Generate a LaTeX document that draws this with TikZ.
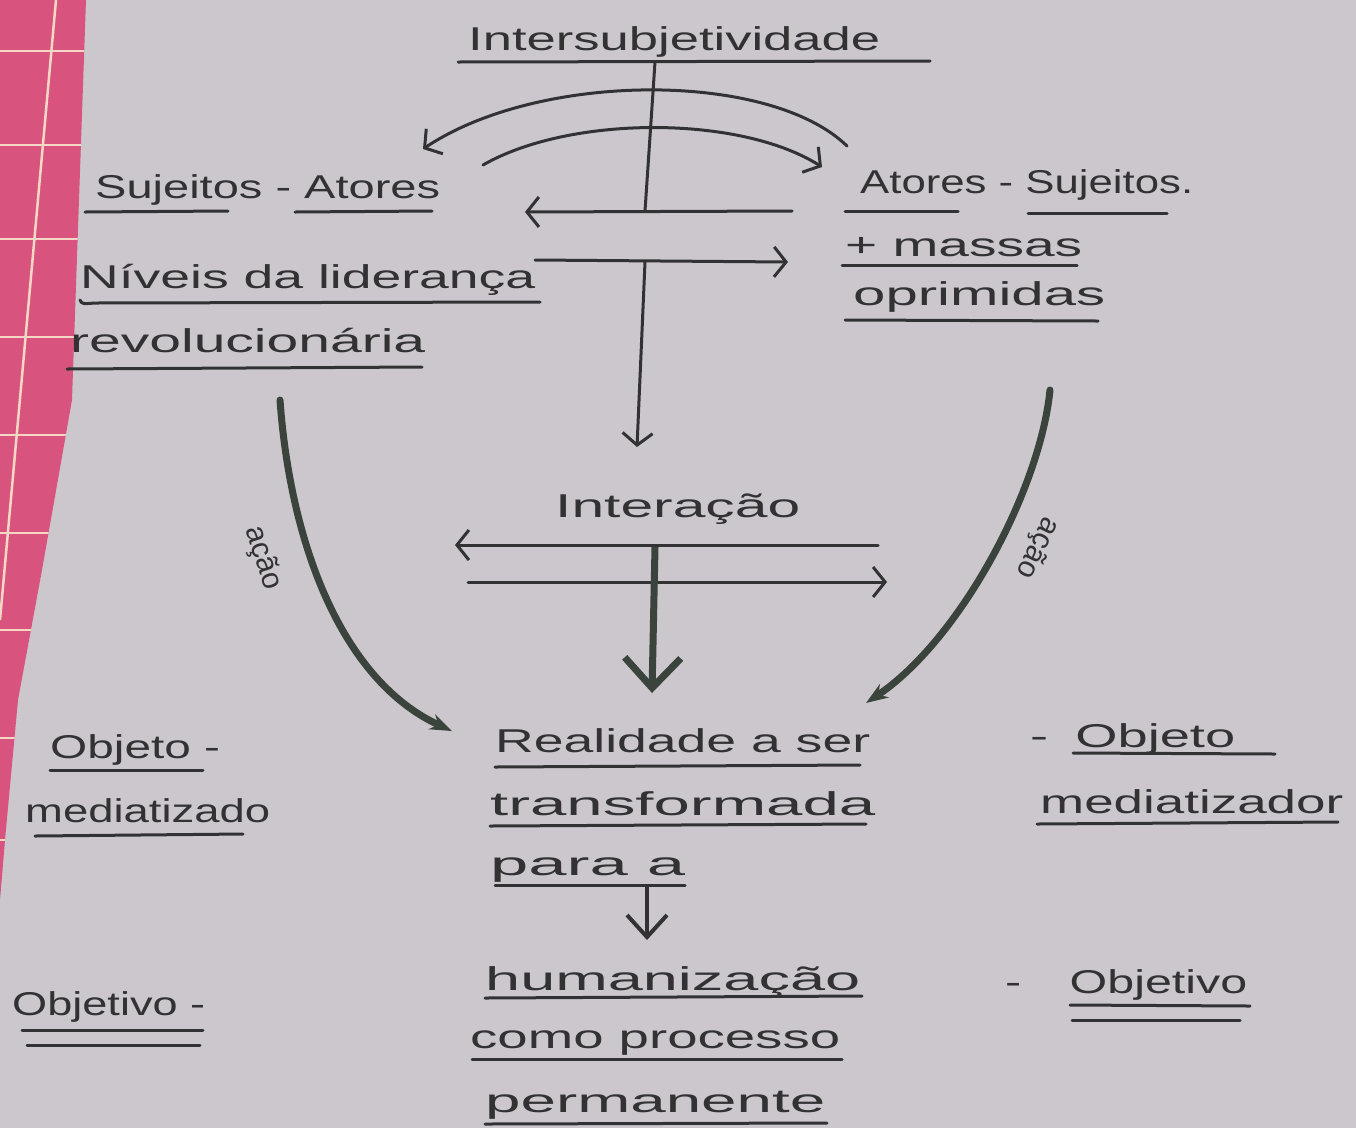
\documentclass[tikz,border=0pt]{standalone}
\usepackage{fontspec}
\setmainfont{Liberation Sans}
\usetikzlibrary{arrows.meta}
\definecolor{paper}{RGB}{204,199,205}
\definecolor{pinkc}{RGB}{216,84,126}
\definecolor{gridc}{RGB}{246,214,196}
\definecolor{ink}{RGB}{50,50,52}
\definecolor{curvec}{RGB}{58,68,60}
\newcommand{\fw}[2]{\resizebox{#1pt}{\height}{#2}}
\begin{document}
\begin{tikzpicture}[x=1pt,y=-1pt,
  txt/.style={anchor=base west,inner sep=0pt,text=ink,font=\fontsize{33}{38}\selectfont},
  small/.style={inner sep=0pt,text=ink,font=\fontsize{30}{32}\selectfont},
  uline/.style={draw=ink,line width=3pt,line cap=round},
  harrow/.style={draw=ink,line width=3pt,line cap=round,-{Straight Barb[length=12pt,width=30pt]}},
  thickarrow/.style={draw=curvec,line width=7pt,-{Straight Barb[length=30pt,width=56pt]}},
  actionarrow/.style={draw=curvec,line width=7pt,line cap=round,-{Stealth[length=22pt,width=16pt]}}]
\useasboundingbox (0,0) rectangle (1356,1128);
\fill[paper] (0,0) rectangle (1356,1128);
% pink grid paper at the left edge
\begin{scope}
  \clip (0,0) -- (86,0) -- (72,400) -- (42,570) -- (18,700) -- (5,840) -- (0,900) -- cycle;
  \fill[pinkc] (0,0) rectangle (100,1000);
  \foreach \yy in {51,145,239,337,435,533,630,738,840}
    \draw[gridc,line width=2.5pt] (0,\yy) -- (100,\yy);
  \draw[gridc,line width=2.5pt] (56,0) -- (0,620);
\end{scope}

% ---------- texts ----------
\node[txt] (inter) at (468,50) {\fw{412}{Intersubjetividade}};
\node[txt] (sa) at (95,198) {\fw{345}{Sujeitos - Atores}};
\node[txt] (niv) at (80,288) {\fw{455}{Níveis da liderança}};
\node[txt] (rev) at (70,352) {\fw{355}{revolucionária}};
\node[txt] (as) at (860,193) {\fw{333}{Atores - Sujeitos.}};
\node[txt] (mas) at (845,256) {\fw{237}{+ massas}};
\node[txt] (opr) at (853,305) {\fw{252}{oprimidas}};
\node[txt] (intc) at (555,517) {\fw{245}{Interação}};
\node[txt] (real) at (495,752) {\fw{375}{Realidade a ser}};
\node[txt] (trans) at (490,815) {\fw{385}{transformada}};
\node[txt] (para) at (490,875) {\fw{195}{para a}};
\node[txt] (hum) at (485,990) {\fw{375}{humanização}};
\node[txt] (como) at (470,1048) {\fw{370}{como processo}};
\node[txt] (perm) at (485,1112) {\fw{340}{permanente}};
\node[txt] (objL) at (50,758) {\fw{170}{Objeto -}};
\node[txt] (medL) at (25,822) {\fw{245}{mediatizado}};
\node[txt] (obvL) at (12,1015) {\fw{193}{Objetivo -}};
\node[txt] (objR) at (1030,747) {\fw{205}{-\hspace{0.5em}Objeto}};
\node[txt] (medR) at (1040,813) {\fw{303}{mediatizador}};
\node[txt] (obvR) at (1005,993) {\fw{242}{-\hspace{1.0em}Objetivo}};
\node[small,rotate=-72] (acaoL) at (263,558) {ação};
\node[small,rotate=-116] (acaoR) at (1037,548) {ação};

% ---------- underlines ----------
\draw[uline] (458,62) -- (930,61);
\draw[uline] (85,212) -- (228,211);
\draw[uline] (295,212) -- (432,211);
\draw[uline] (80,300) .. controls (82,304) .. (95,303) -- (540,302);
\draw[uline] (67,369) -- (422,367);
\draw[uline] (845,211) -- (958,211);
\draw[uline] (1028,213) -- (1167,213);
\draw[uline] (842,265) -- (1077,265);
\draw[uline] (845,320) -- (1098,321);
\draw[uline] (495,767) -- (860,765);
\draw[uline] (490,826) -- (866,824);
\draw[uline] (495,885) -- (685,885);
\draw[uline] (485,998) -- (862,996);
\draw[uline] (472,1059) -- (842,1059);
\draw[uline] (485,1124) -- (827,1123);
\draw[uline] (50,770) -- (203,770);
\draw[uline] (35,836) -- (243,834);
\draw[uline] (22,1030) -- (203,1030);
\draw[uline] (27,1045) -- (200,1045);
\draw[uline] (1073,753) -- (1275,754);
\draw[uline] (1037,824) -- (1338,822);
\draw[uline] (1070,1005) -- (1250,1006);
\draw[uline] (1072,1020) -- (1240,1020);

% ---------- connectors ----------
\coordinate (topA) at (655,62);
\coordinate (topB) at (645,211);
\coordinate (c1s) at (847,146);
\coordinate (c1e) at (423,149);
\coordinate (c2s) at (483,165);
\coordinate (c2e) at (822,167);
\coordinate (h1s) at (792,211);
\coordinate (h1e) at (525,212);
\coordinate (h2s) at (535,260);
\coordinate (h2e) at (788,262);
\coordinate (v2s) at (645,262);
\coordinate (v2e) at (637,447);
\coordinate (i1s) at (878,545);
\coordinate (i1e) at (455,545);
\coordinate (i2s) at (468,582);
\coordinate (i2e) at (887,582);
\coordinate (v3s) at (655,547);
\coordinate (v3e) at (652,693);
\coordinate (v4s) at (647,887);
\coordinate (v4e) at (647,940);
\coordinate (aLs) at (280,400);
\coordinate (aLe) at (452,731);
\coordinate (aRs) at (1050,390);
\coordinate (aRe) at (866,703);

\draw[uline] (topA) -- (topB);
\draw[harrow] (c1s) .. controls (770,71) and (540,71) .. (c1e);
\draw[harrow] (c2s) .. controls (570,115) and (740,115) .. (c2e);
\draw[harrow] (h1s) -- (h1e);
\draw[harrow] (h2s) -- (h2e);
\draw[harrow] (v2s) -- (v2e);
\draw[harrow] (i1s) -- (i1e);
\draw[harrow] (i2s) -- (i2e);
\draw[thickarrow] (v3s) -- (v3e);
\draw[draw=ink,line width=4pt,-{Straight Barb[length=22pt,width=40pt]}] (v4s) -- (v4e);
\draw[actionarrow] (aLs) .. controls (290,540) and (340,680) .. (aLe);
\draw[actionarrow] (aRs) .. controls (1040,490) and (960,640) .. (aRe);
\end{tikzpicture}
\end{document}
